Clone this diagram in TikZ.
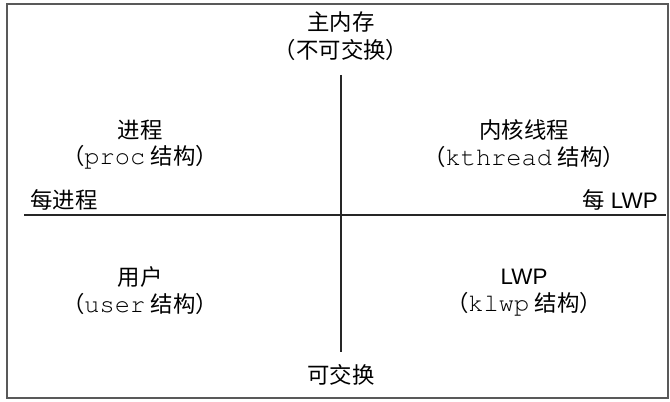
\documentclass[tikz,border=0pt]{standalone}
\usepackage[T1]{fontenc}
\usepackage{fontspec}
\setmainfont{Liberation Sans}
\newfontfamily\cjk{Noto Sans CJK SC}
\newcommand\structfont{\fontencoding{T1}\fontfamily{pcr}\fontsize{19}{20}\selectfont}
\usetikzlibrary{positioning}
\tikzstyle{areatext}=[inner sep=0pt,font=\fontsize{16.8}{20}\selectfont]
\tikzstyle{divider}=[draw,black!85,line width=0.8pt]
\tikzstyle{frame}=[draw,black!65,line width=1.2pt]

\begin{document}
\begin{tikzpicture}[x=0.75pt,y=-0.75pt]
    \useasboundingbox (0,0) rectangle (670,402);
    \draw[frame] (7,4) rectangle (668,398);

    % Memory kinds at the ends of the vertical line
    \node[areatext] (main) at (341,22) {\cjk 主内存};
    \node[areatext] (nonswap) at (341,50) {\cjk （不可交换）};
    \node[areatext] (swap) at (341,375) {\cjk 可交换};

    % Scope labels above the horizontal line
    \node[areatext,anchor=west] (perproc) at (30,200) {\cjk 每进程};
    \node[areatext,anchor=east] (perlwp) at (658,200) {{\cjk 每} LWP};

    % The four quadrants
    \foreach \x/\y/\name/\title/\struct in {140/130/proc/{\cjk 进程}/proc, 524/130/kthread/{\cjk 内核线程}/kthread,
                                             140/277/user/{\cjk 用户}/user, 524/277/klwp/LWP/klwp}
    {
        \node[areatext] (\name title) at (\x,\y) {\title};
        \node[areatext] (\name) at (\x,\y+27) {{\cjk （}{\structfont\struct}\hspace{0.25em}{\cjk 结构）}};
    }

    % Dividing lines
    \coordinate (vtop) at (341,75);
    \coordinate (vbot) at (341,352);
    \coordinate (hleft) at (24,215);
    \coordinate (hright) at (666,215);
    \path[divider] (vtop) -- (vbot);
    \path[divider] (hleft) -- (hright);
\end{tikzpicture}
\end{document}
